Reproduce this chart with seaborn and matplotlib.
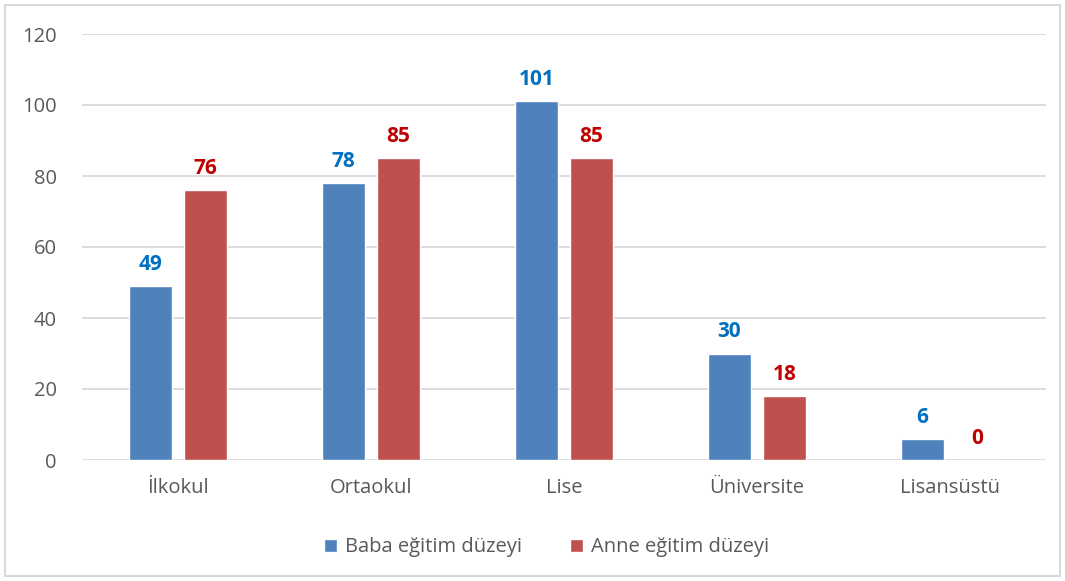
import pandas as pd
import seaborn as sns
import matplotlib.pyplot as plt
from matplotlib.patches import Rectangle

# data
levels = ["İlkokul", "Ortaokul", "Lise", "Üniversite", "Lisansüstü"]
baba = [49, 78, 101, 30, 6]
anne = [76, 85, 85, 18, 0]
series_names = ["Baba eğitim düzeyi", "Anne eğitim düzeyi"]

df = pd.DataFrame({
    "level": levels * 2,
    "count": baba + anne,
    "series": [series_names[0]] * len(levels) + [series_names[1]] * len(levels),
})

sns.set_style("white")
plt.rcParams['font.family'] = ['Open Sans', 'DejaVu Sans']

bar_colors = ["#4F81BD", "#C0504D"]
label_colors = ["#0070C0", "#C00000"]

fig = plt.figure(figsize=(10.65, 5.81), dpi=100)
ax = fig.add_axes([82 / 1065, 1 - 460 / 581, (1046 - 82) / 1065, (460 - 34) / 581])

sns.barplot(data=df, x="level", y="count", hue="series", palette=bar_colors,
            width=0.57, gap=0.22, saturation=1, errorbar=None, ax=ax, zorder=3)

ax.set_ylim(0, 120)
ax.set_yticks(range(0, 121, 20))
ax.set_xlim(-0.5, len(levels) - 0.5)
ax.grid(axis="y", color="#D9D9D9", linewidth=1.3, zorder=0)
for s in ["top", "right", "left", "bottom"]:
    ax.spines[s].set_visible(False)
ax.set_xlabel("")
ax.set_ylabel("")
ax.tick_params(axis="both", length=0, labelsize=14.5, labelcolor="#595959")
ax.tick_params(axis="y", pad=18)
ax.tick_params(axis="x", pad=13)

# value labels above bars
for cont, col in zip(ax.containers, label_colors):
    ax.bar_label(cont, padding=8, color=col, fontsize=15, fontweight="bold")

# legend at the bottom
handles, labels = ax.get_legend_handles_labels()
ax.legend(handles, labels, loc="center", bbox_to_anchor=(0.482, -0.205), ncol=2,
          frameon=False, fontsize=14.5, labelcolor="#595959", handlelength=0.65,
          handleheight=0.65, handletextpad=0.4, columnspacing=2.4)

# chart border
fig.patches.append(Rectangle((5 / 1065, 5 / 581), 1055 / 1065, 571 / 581,
                             transform=fig.transFigure, fill=False,
                             edgecolor="#D9D9D9", linewidth=1.5))

fig.savefig("out.png", dpi=100)
